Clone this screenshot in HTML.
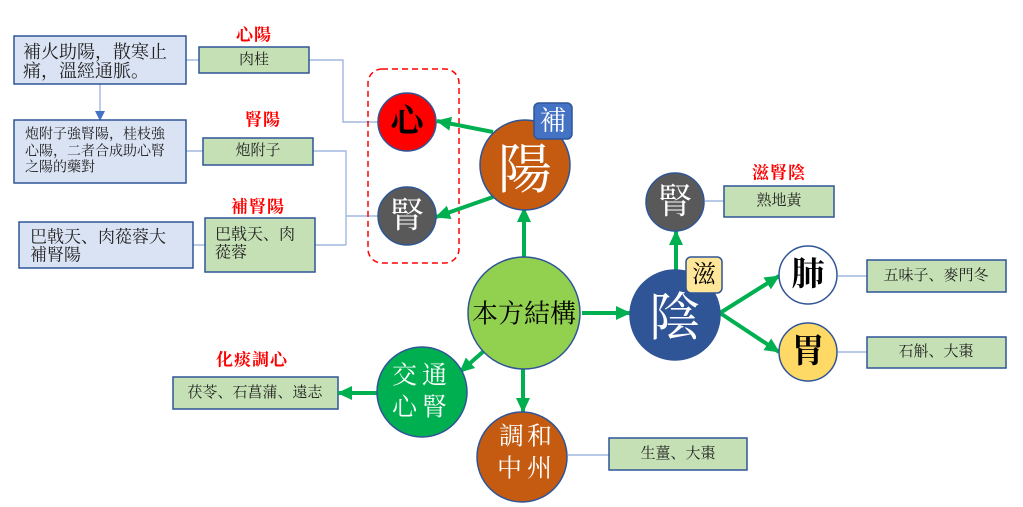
<!DOCTYPE html>
<html><head><meta charset="utf-8"><style>
html,body{margin:0;padding:0;background:#fff;width:1023px;height:507px;overflow:hidden}
svg{display:block}
text{font-family:"Liberation Serif","Noto Serif CJK SC",serif}
.bx{font-family:"Liberation Serif","Noto Serif CJK SC",serif;fill:#222}
.red{fill:#FF0000;font-weight:bold;font-size:17px;letter-spacing:1px}
</style></head><body>
<svg width="1023" height="507" viewBox="0 0 1023 507" xmlns="http://www.w3.org/2000/svg">
<defs>
<marker id="ga" markerUnits="userSpaceOnUse" markerWidth="16" markerHeight="16" refX="14" refY="8" orient="auto">
<path d="M0,1 L15,8 L0,15 z" fill="#00B050"/>
</marker>
<marker id="ba" markerUnits="userSpaceOnUse" markerWidth="10" markerHeight="10" refX="9" refY="5" orient="auto">
<path d="M0,0 L10,5 L0,10 z" fill="#4472C4"/>
</marker>
</defs>

<!-- thin connectors -->
<g stroke="#8FAADC" stroke-width="1.2" fill="none">
<line x1="186" y1="60" x2="199" y2="60"/>
<polyline points="309,60 343,60 343,122 378,122"/>
<line x1="186" y1="151" x2="203" y2="151"/>
<polyline points="313,151 346,151 346,245"/>
<line x1="346" y1="216" x2="378" y2="216"/>
<line x1="193" y1="245" x2="205" y2="245"/>
<line x1="315" y1="245" x2="346" y2="245"/>
<line x1="705" y1="201" x2="724" y2="201"/>
<line x1="838" y1="276" x2="867" y2="276"/>
<line x1="838" y1="352" x2="867" y2="352"/>
<line x1="568" y1="455" x2="609" y2="455"/>
</g>
<line x1="100" y1="84" x2="100" y2="120" stroke="#8FAADC" stroke-width="1.2" marker-end="url(#ba)"/>

<!-- left blue boxes -->
<g fill="#DAE3F3" stroke="#2F5597" stroke-width="1.5">
<rect x="14" y="36" width="172" height="48"/>
<rect x="14" y="120" width="172" height="63"/>
<rect x="19" y="222" width="174" height="46"/>
</g>
<g class="bx" dominant-baseline="central">
<text x="23" y="52" font-size="18" dominant-baseline="central">補火助陽，散寒止</text>
<text x="23" y="71" font-size="18" dominant-baseline="central">痛，溫經通脈。</text>
<text x="25" y="135" font-size="14" dominant-baseline="central">炮附子強腎陽，桂枝強</text>
<text x="25" y="152" font-size="14" dominant-baseline="central">心陽，二者合成助心腎</text>
<text x="25" y="168" font-size="14" dominant-baseline="central">之陽的藥對</text>
<text x="30" y="237" font-size="17" dominant-baseline="central">巴戟天、肉蓯蓉大</text>
<text x="30" y="255" font-size="17" dominant-baseline="central">補腎陽</text>
</g>

<!-- green boxes -->
<g fill="#C5E0B4" stroke="#2F5597" stroke-width="1.5">
<rect x="199" y="47" width="110" height="26"/>
<rect x="203" y="138" width="110" height="27"/>
<rect x="205" y="218" width="110" height="54"/>
<rect x="724" y="186" width="110" height="31"/>
<rect x="867" y="260" width="139" height="32"/>
<rect x="867" y="337" width="139" height="31"/>
<rect x="173" y="377" width="165" height="32"/>
<rect x="609" y="438" width="138" height="32"/>
</g>
<g class="bx" font-size="15" text-anchor="middle">
<text x="254" y="60" dominant-baseline="central">肉桂</text>
<text x="258" y="151" dominant-baseline="central">炮附子</text>
<text x="779" y="201" dominant-baseline="central">熟地黃</text>
<text x="936" y="276" dominant-baseline="central">五味子、麥門冬</text>
<text x="936" y="352" dominant-baseline="central">石斛、大棗</text>
<text x="255" y="393" dominant-baseline="central">茯苓、石菖蒲、遠志</text>
<text x="678" y="454" dominant-baseline="central">生薑、大棗</text>
</g>
<text class="bx" x="215" y="235" font-size="16" dominant-baseline="central">巴戟天、肉</text>
<text class="bx" x="215" y="253" font-size="16" dominant-baseline="central">蓯蓉</text>

<!-- red labels -->
<g class="red" text-anchor="middle">
<text x="254" y="35" dominant-baseline="central">心陽</text>
<text x="263" y="120" dominant-baseline="central">腎陽</text>
<text x="258" y="207" dominant-baseline="central">補腎陽</text>
<text x="779" y="173" dominant-baseline="central">滋腎陰</text>
<text x="252" y="360" dominant-baseline="central">化痰調心</text>
</g>

<!-- dashed group -->
<rect x="368" y="69" width="91" height="194" rx="14" ry="14" fill="none" stroke="#FF0000" stroke-width="1.5" stroke-dasharray="6,4"/>

<!-- green arrows -->
<g stroke="#00B050" stroke-width="4" marker-end="url(#ga)">
<line x1="524" y1="260" x2="524" y2="208"/>
<line x1="493" y1="132" x2="437" y2="121"/>
<line x1="493" y1="197" x2="436" y2="217"/>
<line x1="582" y1="313" x2="630" y2="313"/>
<line x1="676" y1="272" x2="676" y2="231"/>
<line x1="720" y1="313" x2="779" y2="276"/>
<line x1="720" y1="313" x2="779" y2="352"/>
<line x1="485" y1="350" x2="460" y2="372"/>
<line x1="523" y1="367" x2="523" y2="412"/>
<line x1="378" y1="393" x2="338" y2="393"/>
</g>

<!-- circles -->
<g stroke="#2F5597" stroke-width="1.5">
<circle cx="407" cy="122" r="29" fill="#FF0000"/>
<circle cx="407" cy="216" r="29" fill="#595959"/>
<circle cx="525" cy="165" r="45" fill="#C55A11"/>
<circle cx="524" cy="313" r="56" fill="#92D050"/>
<circle cx="675" cy="315" r="45" fill="#2F5597"/>
<circle cx="675" cy="202" r="29" fill="#595959"/>
<circle cx="808" cy="275" r="29" fill="#FFFFFF"/>
<circle cx="808" cy="352" r="29" fill="#FFD966"/>
<circle cx="422" cy="392" r="45" fill="#00B050"/>
<circle cx="522" cy="457" r="45" fill="#C55A11"/>
</g>

<!-- small tag boxes -->
<rect x="534" y="103" width="38" height="36" rx="5" fill="#4472C4" stroke="#2F5597" stroke-width="1.5"/>
<text x="553" y="121" font-size="27" fill="#fff" text-anchor="middle" dominant-baseline="central">補</text>
<rect x="686" y="257" width="36" height="36" rx="5" fill="#FFE699" stroke="#2F5597" stroke-width="1.5"/>
<text x="704" y="275" font-size="24" fill="#000" text-anchor="middle" dominant-baseline="central">滋</text>

<!-- circle labels -->
<g text-anchor="middle">
<text x="407" y="122" font-size="33" font-weight="bold" fill="#000" dominant-baseline="central">心</text>
<text x="407" y="216" font-size="35" fill="#fff" dominant-baseline="central">腎</text>
<text x="525" y="170" font-size="54" fill="#fff" dominant-baseline="central">陽</text>
<text x="524" y="314" font-size="26" fill="#000" dominant-baseline="central">本方結構</text>
<text x="675" y="319" font-size="52" fill="#fff" dominant-baseline="central">陰</text>
<text x="675" y="202" font-size="35" fill="#fff" dominant-baseline="central">腎</text>
<text x="808" y="275" font-size="33" font-weight="bold" fill="#000" dominant-baseline="central">肺</text>
<text x="808" y="352" font-size="33" font-weight="bold" fill="#000" dominant-baseline="central">胃</text>
<text x="422" y="376" font-size="25" fill="#fff" letter-spacing="5" dominant-baseline="central">交通</text>
<text x="422" y="408" font-size="25" fill="#fff" letter-spacing="5" dominant-baseline="central">心腎</text>
<text x="527" y="437" font-size="25" fill="#fff" letter-spacing="3" dominant-baseline="central">調和</text>
<text x="527" y="469" font-size="25" fill="#fff" letter-spacing="5" dominant-baseline="central">中州</text>
</g>
</svg>
</body></html>
